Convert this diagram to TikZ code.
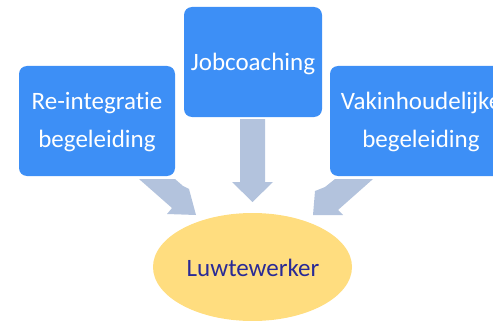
\documentclass[tikz,border=0pt]{standalone}
\usepackage{fontspec}
\setmainfont{Carlito}[Ligatures={NoCommon,NoDiscretionary}]
\usetikzlibrary{shapes.geometric}
\definecolor{boxblue}{HTML}{3D8FF6}
\definecolor{arrowgray}{HTML}{B3C3DD}
\definecolor{ellyellow}{HTML}{FFDD7F}
\definecolor{navytext}{HTML}{2A2A96}
\begin{document}
\begin{tikzpicture}[x=1pt,y=-1pt,
  box/.style={fill=boxblue, rounded corners=8pt, inner sep=0pt, minimum height=110pt},
  lbl/.style={text=white, font=\fontsize{25}{30}\selectfont, inner sep=0pt, anchor=base},
  blockarrow/.style={fill=arrowgray}
]
\useasboundingbox (0,0) rectangle (493,321);
\clip (0,0) rectangle (493,321);
% arrows
\fill[blockarrow] (240,119) -- (265,119) -- (265,182) -- (273,182) -- (252.5,202) -- (232,182) -- (240,182) -- cycle;
\fill[blockarrow] (139,179) -- (175,179) -- (183,186) -- (189,189) -- (196,215) -- (167,214) -- (172,208) -- cycle;
\fill[blockarrow] (373,179) -- (335,179) -- (325,187) -- (315,191) -- (313,215) -- (343,215) -- (338,210) -- cycle;
% boxes
\node[box, minimum width=156pt] (reint) at (97,121) {};
\node[box, minimum width=138pt] (job) at (253,62) {};
\node[box, minimum width=182pt] (vak) at (421,121) {};
% ellipse
\node[fill=ellyellow, ellipse, inner sep=0pt, minimum width=199pt, minimum height=108pt] (luw) at (252.5,267) {};
% labels
\node[lbl] (reintA) at (97,110) {Re-integratie};
\node[lbl] (reintB) at (97,147) {begeleiding};
\node[lbl] (jobA) at (253,71) {Jobcoaching};
\node[lbl] (vakA) at (421,110) {Vakinhoudelijke};
\node[lbl] (vakB) at (421,147) {begeleiding};
\node[lbl, text=navytext] (luwA) at (253,276) {Luwtewerker};
\end{tikzpicture}
\end{document}
